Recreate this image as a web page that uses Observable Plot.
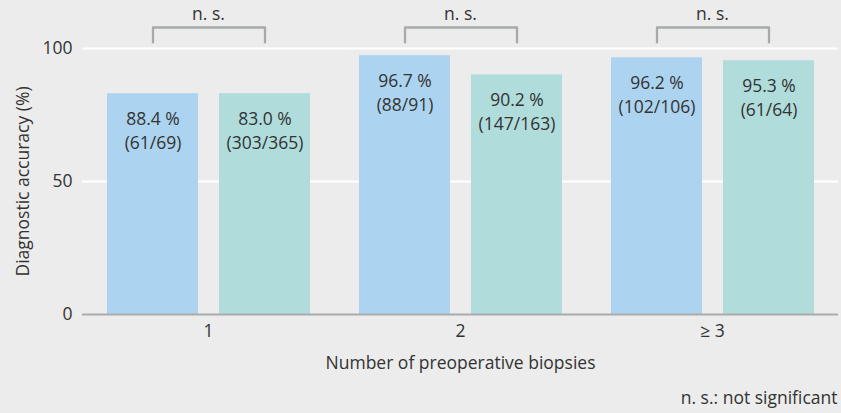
<!DOCTYPE html>
<html><head><meta charset="utf-8">
<script src="https://cdn.jsdelivr.net/npm/d3@7"></script>
<script src="https://cdn.jsdelivr.net/npm/@observablehq/plot@0.6"></script>
<style>body{margin:0;background:#ebeceb;}</style>
</head><body><div id="chart"></div>
<script>
// ---- data ----
const groups = ["1", "2", "≥ 3"];
const series = ["a", "b"];
const barGroup = ["1", "1", "2", "2", "≥ 3", "≥ 3"];
const barSeries = ["a", "b", "a", "b", "a", "b"];
const barValue = [83.0, 83.0, 97.3, 90.1, 96.5, 95.4];
const pctLabels = ["88.4 %", "83.0 %", "96.7 %", "90.2 %", "96.2 %", "95.3 %"];
const countLabels = ["(61/69)", "(303/365)", "(88/91)", "(147/163)", "(102/106)", "(61/64)"];
const sigLabels = ["n. s.", "n. s.", "n. s."];
const yTicks = [0, 50, 100];
const gridValues = [50, 100];
const xTitle = "Number of preoperative biopsies";
const yTitle = "Diagnostic accuracy (%)";
const footnote = "n. s.: not significant";

// ---- build tables ----
const bars = barValue.map((v, i) => ({g: barGroup[i], s: barSeries[i], v, label: pctLabels[i] + "\n" + countLabels[i]}));
const bracketLow = 102.3, bracketHigh = 107.9, sigY = 112.7;
const brackets = groups.flatMap(g => [
  {g, s: series[0], y: bracketLow},
  {g, s: series[0], y: bracketHigh},
  {g, s: series[1], y: bracketHigh},
  {g, s: series[1], y: bracketLow}
]);
const sig = groups.map((g, i) => ({g, t: sigLabels[i]}));

const colors = {a: "#acd3ef", b: "#b0dddc"};
const textColor = "#333333";
const fs = 17.5;

const chart = Plot.plot({
  width: 841,
  height: 413,
  marginLeft: 82,
  marginRight: 3,
  marginTop: 48,
  marginBottom: 99,
  style: {background: "#ebeceb", fontFamily: "'Open Sans', sans-serif", fontSize: fs + "px", color: textColor},
  fx: {domain: groups, padding: 0, axis: "bottom", tickSize: 0, tickPadding: 10, label: null},
  x: {domain: series, paddingInner: 0.1875, paddingOuter: 0.21875, axis: null},
  y: {domain: [0, 100], ticks: yTicks, tickSize: 0, tickPadding: 10, label: null, grid: false},
  color: {domain: series, range: [colors.a, colors.b]},
  marks: [
    Plot.ruleY(gridValues, {stroke: "white", strokeWidth: 2}),
    Plot.barY(bars, {fx: "g", x: "s", y: "v", fill: "s"}),
    Plot.ruleY([0], {stroke: "#a9abac", strokeWidth: 2}),
    Plot.text(bars, {fx: "g", x: "s", y: "v", text: "label", dy: 35.5, lineAnchor: "middle", lineHeight: 1.36, fontSize: fs, fill: textColor}),
    Plot.line(brackets, {fx: "g", x: "s", y: "y", z: "g", stroke: "#a7a9aa", strokeWidth: 2.3, curve: "linear"}),
    Plot.text(sig, {fx: "g", y: sigY, text: "t", frameAnchor: "middle", fontSize: fs, fill: textColor}),
    Plot.text([xTitle], {fx: [groups[1]], frameAnchor: "bottom", dy: 54, fontSize: fs, fill: textColor}),
    Plot.text([yTitle], {fx: [groups[0]], frameAnchor: "left", textAnchor: "middle", dx: -59, rotate: -90, fontSize: fs, fill: textColor}),
    Plot.text([footnote], {fx: [groups[2]], frameAnchor: "bottom-right", textAnchor: "end", dy: 89, dx: -1, fontSize: fs, fill: textColor})
  ]
});
document.getElementById("chart").appendChild(chart);
</script>
</body></html>
